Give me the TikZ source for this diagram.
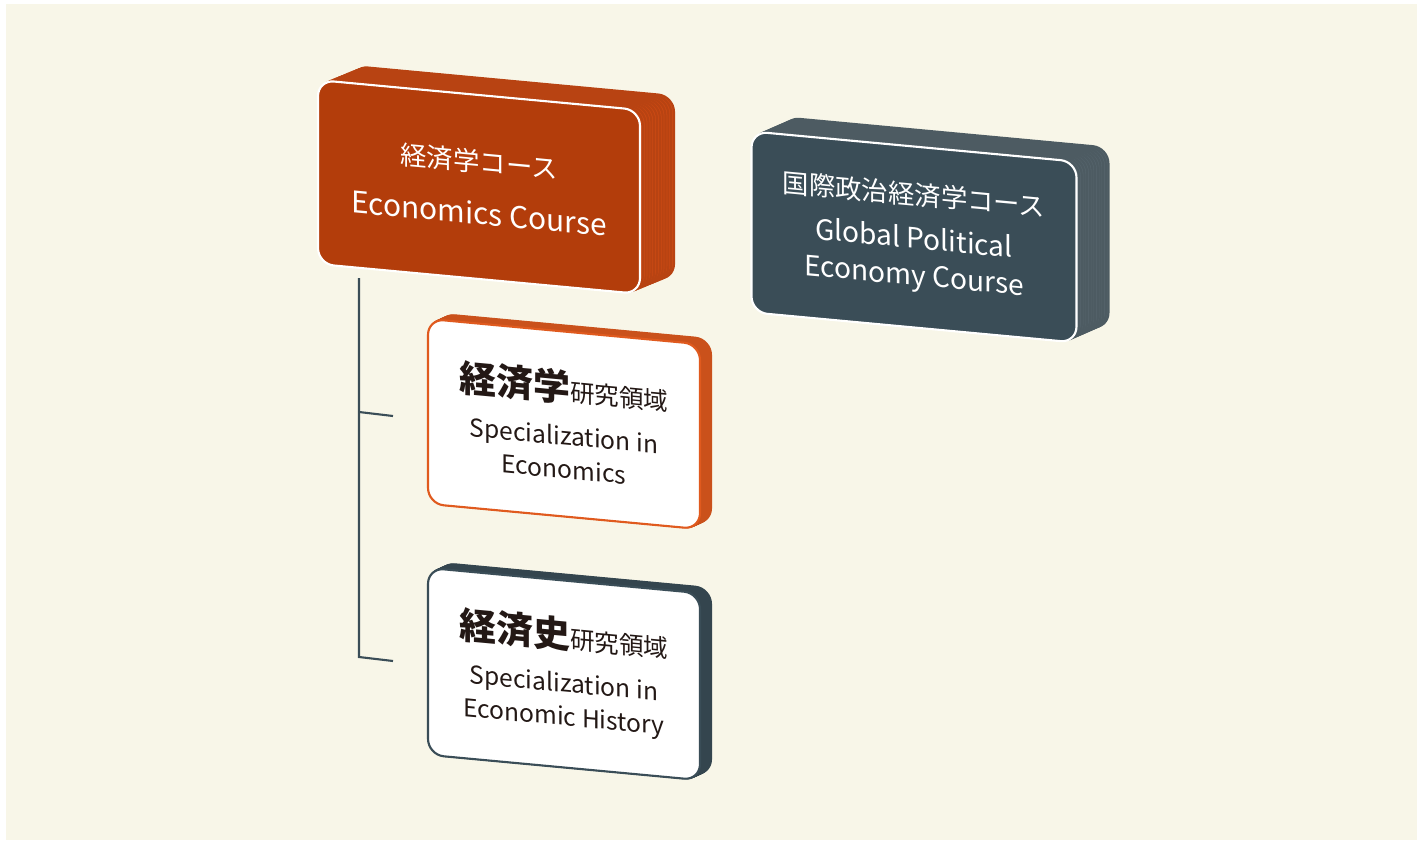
\documentclass[tikz,border=0pt]{standalone}
\usepackage{fontspec}
\setmainfont{Noto Sans CJK JP}
\definecolor{pageBg}{HTML}{F8F6E8}
\definecolor{rust}{HTML}{B33D0B}
\definecolor{rustSide}{HTML}{CC4A14}
\definecolor{rustLine}{HTML}{E05A1E}
\definecolor{slate}{HTML}{3A4D57}
\definecolor{slateSide}{HTML}{56656D}
\definecolor{ink}{HTML}{231815}
\usetikzlibrary{calc}
\tikzset{
  slab/.style={rounded corners=9pt, transform shape, yslant=-0.093, line width=1.2pt,
    align=center, inner sep=0pt},
  trunk/.style={slate, line width=1.2pt},
}
% extruded box: #1 position, #2 width, #3 height, #4 side colour, #5 depth x, #6 depth y
\newcommand\extrude[6]{%
  \foreach \k in {12,11,...,1}
    \node[slab, draw=#4!90!black, fill=#4, minimum width=#2, minimum height=#3]
      at ($#1+(\k*#5/12,\k*#6/12)$) {};
}
\begin{document}
\begin{tikzpicture}[x=0.02cm, y=-0.02cm]
  \useasboundingbox (0,0) rectangle (1423,845);
  \fill[pageBg] (6,4) rectangle (1417,840);

  % main courses
  \extrude{(479,187)}{6.44cm}{3.68cm}{rustSide}{34}{-14}
  \node[slab, draw=white, fill=rust, text=white, minimum width=6.44cm, minimum height=3.68cm,
    font=\fontsize{15}{22}\selectfont] (eco) at (479,187)
    {経済学コース\\[8pt]\fontsize{17}{22}\selectfont Economics Course};

  \extrude{(914,237)}{6.5cm}{3.62cm}{slateSide}{32}{-14}
  \node[slab, draw=white, fill=slate, text=white, minimum width=6.5cm, minimum height=3.62cm,
    font=\fontsize{15}{21}\selectfont] (gpe) at (914,237)
    {国際政治経済学コース\\[4pt]\fontsize{16}{20}\selectfont Global Political\\\fontsize{16}{20}\selectfont Economy Course};

  % specializations
  \extrude{(564,424)}{5.44cm}{3.7cm}{rustLine}{11}{-5}
  \node[slab, draw=rustLine, fill=white, text=ink, minimum width=5.44cm, minimum height=3.7cm,
    font=\fontsize{14}{19}\selectfont] (seco) at (564,424)
    {{\fontsize{21}{24}\selectfont\bfseries 経済学}研究領域\\[6pt]Specialization in\\Economics};

  \extrude{(564,674)}{5.44cm}{3.74cm}{slate}{11}{-5}
  \node[slab, draw=slate, fill=white, text=ink, minimum width=5.44cm, minimum height=3.74cm,
    font=\fontsize{14}{19}\selectfont] (shis) at (564,674)
    {{\fontsize{21}{24}\selectfont\bfseries 経済史}研究領域\\[6pt]Specialization in\\Economic History};

  % tree
  \coordinate (top) at (359,278);
  \coordinate (j1) at (359,412);
  \coordinate (j2) at (359,657);
  \coordinate (e1) at (393,416);
  \coordinate (e2) at (393,661);
  \draw[trunk] (top) -- (j2) -- (e2);
  \draw[trunk] (j1) -- (e1);
\end{tikzpicture}
\end{document}
